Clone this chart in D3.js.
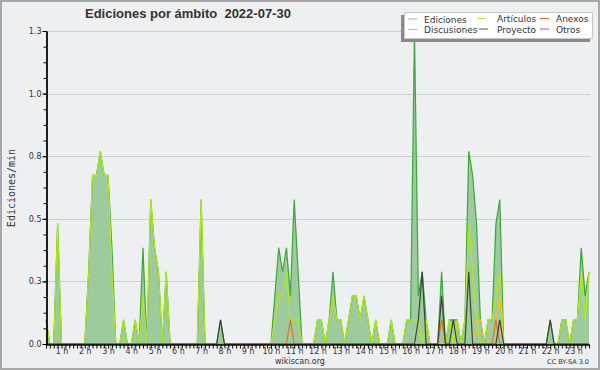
<!DOCTYPE html>
<html>
<head>
<meta charset="utf-8">
<script src="https://cdn.jsdelivr.net/npm/d3@7/dist/d3.min.js"></script>
<style>
  body { margin: 0; background: #eeeff1; }
  svg text { font-family: "DejaVu Sans", sans-serif; fill: #333; }
</style>
</head>
<body>
<div id="chart"></div>
<script>
// Data: one point every 10 minutes, from 00:20 to 23:40 (edits / min)
let times = d3.range(20, 1421, 10);

let ediciones = [
  0.1, 0, 0, 0.5,
  0, 0, 0, 0, 0, 0,
  0, 0.3, 0.7, 0.7, 0.8, 0.7,
  0.7, 0.4, 0, 0, 0.1, 0,
  0, 0.1, 0, 0.4, 0, 0.6,
  0.4, 0.3, 0, 0.3, 0, 0,
  0, 0, 0, 0, 0, 0,
  0.6, 0, 0, 0, 0, 0.1,
  0, 0, 0, 0, 0, 0,
  0, 0, 0, 0, 0, 0,
  0, 0.2, 0.4, 0.3, 0.4, 0.2,
  0.6, 0.3, 0, 0, 0, 0,
  0.1, 0.1, 0, 0.1, 0.3, 0.1,
  0.1, 0, 0.1, 0.2, 0.2, 0.1,
  0.2, 0.1, 0, 0.1, 0, 0,
  0, 0.1, 0, 0, 0, 0.1,
  0.1, 1.3, 0.2, 0.3, 0.1, 0,
  0, 0, 0.3, 0, 0.1, 0.1,
  0.1, 0, 0.1, 0.8, 0.7, 0.5,
  0.1, 0, 0.1, 0.1, 0.5, 0.6,
  0, 0, 0, 0, 0, 0,
  0, 0, 0, 0, 0, 0,
  0.1, 0, 0, 0.1, 0.1, 0,
  0.1, 0.1, 0.4, 0.2, 0.3
];

let articulos = [
  0.1, 0, 0, 0.5,
  0, 0, 0, 0, 0, 0,
  0, 0.3, 0.7, 0.7, 0.8, 0.7,
  0.7, 0.3, 0, 0, 0.1, 0,
  0, 0.1, 0, 0.2, 0, 0.6,
  0.4, 0.3, 0, 0.3, 0, 0,
  0, 0, 0, 0, 0, 0,
  0.6, 0, 0, 0, 0, 0,
  0, 0, 0, 0, 0, 0,
  0, 0, 0, 0, 0, 0,
  0, 0.1, 0.2, 0.2, 0.3, 0.1,
  0.1, 0.1, 0, 0, 0, 0,
  0.1, 0.1, 0, 0.1, 0.2, 0.1,
  0.1, 0, 0.1, 0.2, 0.2, 0.1,
  0.2, 0.1, 0, 0.1, 0, 0,
  0, 0.1, 0, 0, 0, 0.1,
  0.1, 0.1, 0.1, 0, 0.1, 0,
  0, 0, 0, 0, 0.1, 0,
  0.1, 0, 0.1, 0.5, 0.3, 0.1,
  0, 0, 0.1, 0.1, 0.2, 0.3,
  0, 0, 0, 0, 0, 0,
  0, 0, 0, 0, 0, 0,
  0, 0, 0, 0.1, 0.1, 0,
  0.1, 0.1, 0.3, 0.1, 0.3
];

let discusiones = [
  0, 0, 0, 0,
  0, 0, 0, 0, 0, 0,
  0, 0, 0, 0, 0, 0,
  0, 0, 0, 0, 0, 0,
  0, 0, 0, 0, 0, 0,
  0, 0, 0, 0, 0, 0,
  0, 0, 0, 0, 0, 0,
  0, 0, 0, 0, 0, 0,
  0, 0, 0, 0, 0, 0,
  0, 0, 0, 0, 0, 0,
  0, 0, 0, 0, 0, 0,
  0, 0, 0, 0, 0, 0,
  0, 0, 0, 0, 0, 0,
  0, 0, 0, 0, 0, 0,
  0, 0, 0, 0, 0, 0,
  0, 0, 0, 0, 0, 0,
  0, 0, 0, 0, 0, 0,
  0, 0, 0, 0, 0, 0,
  0, 0, 0, 0, 0, 0.1,
  0.1, 0, 0, 0, 0.1, 0.2,
  0, 0, 0, 0, 0, 0,
  0, 0, 0, 0, 0, 0,
  0, 0, 0, 0, 0, 0,
  0, 0, 0, 0, 0
];

let anexos = [
  0, 0, 0, 0,
  0, 0, 0, 0, 0, 0,
  0, 0, 0, 0, 0, 0,
  0, 0, 0, 0, 0, 0,
  0, 0, 0, 0, 0, 0,
  0, 0, 0, 0, 0, 0,
  0, 0, 0, 0, 0, 0,
  0, 0, 0, 0, 0, 0,
  0, 0, 0, 0, 0, 0,
  0, 0, 0, 0, 0, 0,
  0, 0, 0, 0, 0, 0.1,
  0, 0, 0, 0, 0, 0,
  0, 0, 0, 0, 0, 0,
  0, 0, 0, 0, 0, 0,
  0, 0, 0, 0, 0, 0,
  0, 0, 0, 0, 0, 0,
  0, 0, 0, 0, 0, 0,
  0, 0, 0.1, 0, 0, 0,
  0, 0, 0, 0, 0, 0,
  0, 0, 0, 0, 0.1, 0,
  0, 0, 0, 0, 0, 0,
  0, 0, 0, 0, 0, 0,
  0, 0, 0, 0, 0, 0,
  0, 0, 0, 0, 0
];

let proyecto = [
  0, 0, 0, 0,
  0, 0, 0, 0, 0, 0,
  0, 0, 0, 0, 0, 0,
  0, 0, 0, 0, 0, 0,
  0, 0, 0, 0, 0, 0,
  0, 0, 0, 0, 0, 0,
  0, 0, 0, 0, 0, 0,
  0, 0, 0, 0, 0, 0.1,
  0, 0, 0, 0, 0, 0,
  0, 0, 0, 0, 0, 0,
  0, 0, 0, 0, 0, 0,
  0, 0, 0, 0, 0, 0,
  0, 0, 0, 0, 0, 0,
  0, 0, 0, 0, 0, 0,
  0, 0, 0, 0, 0, 0,
  0, 0, 0, 0, 0, 0,
  0, 0, 0.1, 0.3, 0, 0,
  0, 0, 0.2, 0, 0, 0.1,
  0, 0, 0, 0.3, 0, 0,
  0, 0, 0, 0, 0, 0.1,
  0, 0, 0, 0, 0, 0,
  0, 0, 0, 0, 0, 0,
  0.1, 0, 0, 0, 0, 0,
  0, 0, 0, 0, 0
];

let otros = times.map(() => 0);

let hourTicks = [60, 120, 180, 240, 300, 360, 420, 480, 540, 600, 660, 720,
  780, 840, 900, 960, 1020, 1080, 1140, 1200, 1260, 1320, 1380];
let hourLabels = ["1 h", "2 h", "3 h", "4 h", "5 h", "6 h", "7 h", "8 h", "9 h", "10 h",
  "11 h", "12 h", "13 h", "14 h", "15 h", "16 h", "17 h", "18 h", "19 h", "20 h",
  "21 h", "22 h", "23 h"];
let yTicks = [0, 0.26, 0.52, 0.78, 1.04, 1.3];

// svg size
let svgWidth = 600;
let svgHeight = 370;

let svg = d3
  .select("#chart")
  .append("svg")
  .attr("width", svgWidth)
  .attr("height", svgHeight);

// background + frame
svg.append("rect")
  .attr("x", 1).attr("y", 1)
  .attr("width", svgWidth - 2).attr("height", svgHeight - 2)
  .attr("fill", "#eeeff1")
  .attr("stroke", "#a8a8a8")
  .attr("stroke-width", 2);

// scales
let x = d3.scaleLinear().domain([20, 1420]).range([46, 589]);
let y = d3.scaleLinear().domain([0, 1.3]).range([344, 31]);

// grid lines
svg.append("g")
  .selectAll("line")
  .data(yTicks.slice(1))
  .enter()
  .append("line")
  .attr("x1", 47)
  .attr("x2", 590)
  .attr("y1", d => Math.round(y(d)) + 0.5)
  .attr("y2", d => Math.round(y(d)) + 0.5)
  .attr("stroke", "#cdcdcd")
  .attr("stroke-width", 1);

// series
let series = [
  { name: "Artículos", values: articulos, color: "#b2ea14" },
  { name: "Discusiones", values: discusiones, color: "#f4c020" },
  { name: "Anexos", values: anexos, color: "#ee6a2a" },
  { name: "Proyecto", values: proyecto, color: "#3a463a" },
  { name: "Otros", values: otros, color: "#9b55e8" }
];

let area = d3.area()
  .x((d, i) => x(times[i]))
  .y0(y(0))
  .y1(d => y(d));

let line = d3.line()
  .x((d, i) => x(times[i]))
  .y(d => y(d));

svg.append("path")
  .datum(ediciones)
  .attr("d", area)
  .attr("fill", "#9ecb9e");

svg.append("path")
  .datum(ediciones)
  .attr("d", line)
  .attr("fill", "none")
  .attr("stroke", "#3aa83a")
  .attr("stroke-width", 1.2);

series.forEach(function(s) {
  // skip series that stay at zero
  if (d3.max(s.values) === 0) return;
  svg.append("path")
    .datum(s.values)
    .attr("d", line)
    .attr("fill", "none")
    .attr("stroke", s.color)
    .attr("stroke-width", 1.2);
});

// y axis
let yMinor = d3.range(0, 1.3001, 0.065);
svg.append("g")
  .attr("transform", "translate(46.5,0)")
  .call(d3.axisLeft(y).tickValues(yMinor).tickSize(3).tickFormat("").tickSizeOuter(0));

let yAxis = svg.append("g")
  .attr("transform", "translate(46.5,0)")
  .call(d3.axisLeft(y).tickValues(yTicks).tickSize(4).tickFormat(d3.format(".1f")).tickSizeOuter(0));
yAxis.selectAll("text").attr("font-size", 8).attr("fill", "#444").attr("x", -5);
yAxis.select(".domain").attr("stroke-width", 1.5);

// x axis
let xAxis = svg.append("g")
  .attr("transform", "translate(0,344.5)")
  .call(d3.axisBottom(x).tickValues(times).tickSize(4).tickFormat("").tickSizeOuter(0));
xAxis.select(".domain").attr("stroke-width", 1.5);

let xLabels = svg.append("g")
  .attr("transform", "translate(0,344.5)")
  .call(d3.axisBottom(x).tickValues(hourTicks).tickSize(0)
    .tickFormat((d, i) => hourLabels[i]).tickSizeOuter(0));
xLabels.select(".domain").remove();
xLabels.selectAll("text").attr("font-size", 8).attr("fill", "#333").attr("y", 4);

// title (two spaces before the date)
svg.append("text")
  .attr("x", 85)
  .attr("y", 18)
  .style("font-family", "'Liberation Sans', Arial, sans-serif")
  .style("white-space", "pre")
  .attr("font-weight", "bold")
  .attr("font-size", 13)
  .attr("fill", "#111")
  .text("Ediciones por ámbito  2022-07-30");

// y label
svg.append("text")
  .attr("transform", "translate(15,188) rotate(-90)")
  .attr("text-anchor", "middle")
  .style("font-family", "'DejaVu Sans Mono', monospace")
  .attr("font-size", 10)
  .text("Ediciones/min");

// footer
svg.append("text")
  .attr("x", 300)
  .attr("y", 364)
  .attr("text-anchor", "middle")
  .attr("font-size", 8)
  .text("wikiscan.org");

svg.append("text")
  .attr("x", 589)
  .attr("y", 364)
  .attr("text-anchor", "end")
  .attr("font-size", 6.5)
  .text("CC BY-SA 3.0");

// legend
let legend = svg.append("g");
legend.append("rect")
  .attr("x", 401).attr("y", 15)
  .attr("width", 189).attr("height", 27)
  .attr("fill", "#8a8a8a");
legend.append("rect")
  .attr("x", 404.5).attr("y", 12.5)
  .attr("width", 188).attr("height", 26)
  .attr("fill", "#ffffff")
  .attr("stroke", "#c8c8c8");

let legendItems = [
  { name: "Ediciones", color: "#88cc88", lx: 408, tx: 424, ly: 19 },
  { name: "Discusiones", color: "#f4c020", lx: 408, tx: 424, ly: 29.5 },
  { name: "Artículos", color: "#c8ee44", lx: 477, tx: 497, ly: 18.5 },
  { name: "Proyecto", color: "#555555", lx: 479, tx: 497, ly: 29 },
  { name: "Anexos", color: "#ee6a2a", lx: 540, tx: 556, ly: 18.5 },
  { name: "Otros", color: "#9b55e8", lx: 540, tx: 556, ly: 29 }
];

legendItems.forEach(function(d) {
  legend.append("line")
    .attr("x1", d.lx).attr("x2", d.lx + 9)
    .attr("y1", d.ly).attr("y2", d.ly)
    .attr("stroke", d.color)
    .attr("stroke-width", 1);
  legend.append("text")
    .attr("x", d.tx)
    .attr("y", d.ly + 3.5)
    .attr("font-size", 9)
    .attr("fill", "#222")
    .text(d.name);
});
</script>
</body>
</html>
